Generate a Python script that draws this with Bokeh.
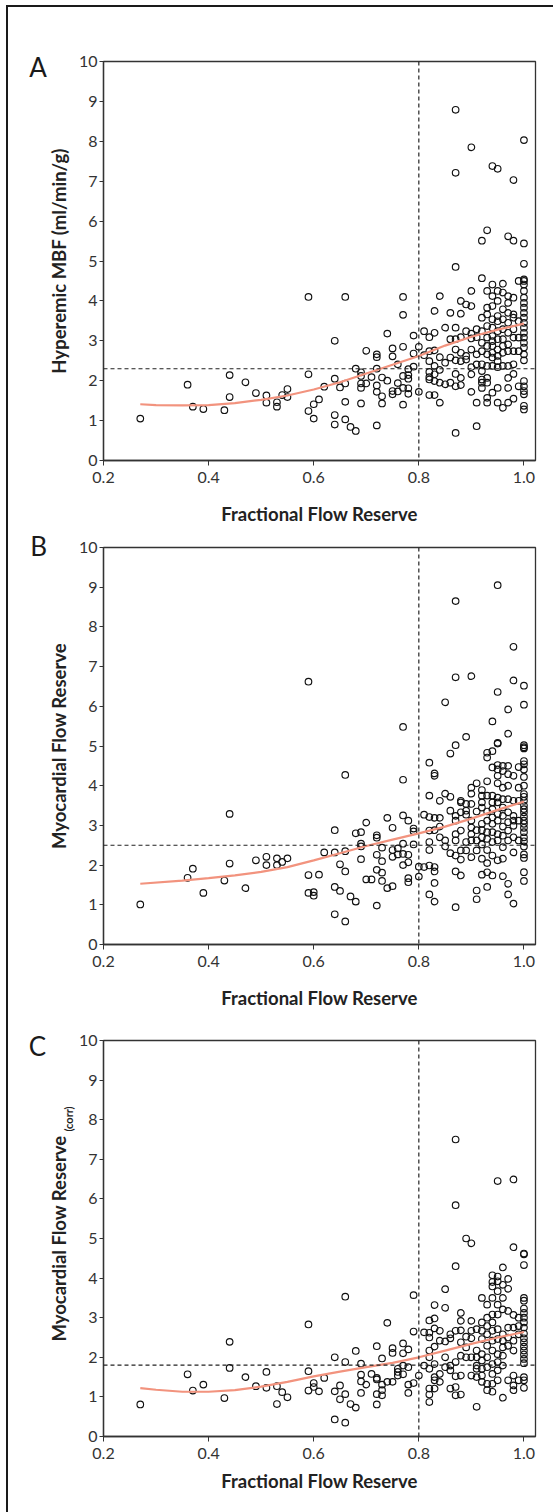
import math
from bokeh.plotting import figure
from bokeh.models import Span, Label, FixedTicker, Range1d, NumeralTickFormatter
from bokeh.layouts import column
from bokeh.embed import file_html
from bokeh.resources import INLINE

# ---------------- data ----------------
x_ticks = [0.2, 0.4, 0.6, 0.8, 1.0]
y_ticks = list(range(0, 11))

# Panel A : FFR vs hyperemic MBF (ml/min/g)
a_points = [
    (0.27, 1.05), (0.36, 1.90), (0.37, 1.35), (0.39, 1.29), (0.43, 1.26), (0.44, 2.14), (0.44, 1.59),
    (0.47, 1.96), (0.49, 1.69), (0.51, 1.63), (0.51, 1.45), (0.53, 1.46), (0.53, 1.35), (0.54, 1.64),
    (0.55, 1.79), (0.55, 1.59),
    (0.59, 4.10), (0.59, 2.16), (0.59, 1.24), (0.60, 1.41), (0.60, 1.05), (0.61, 1.53), (0.62, 1.85),
    (0.64, 3.00), (0.64, 2.05), (0.64, 1.14), (0.64, 0.90), (0.65, 1.83), (0.66, 4.10), (0.66, 1.93),
    (0.66, 1.47), (0.66, 1.03), (0.67, 0.84), (0.68, 0.74), (0.68, 2.30), (0.69, 2.21), (0.69, 2.12),
    (0.69, 1.93), (0.69, 1.82), (0.69, 1.43), (0.70, 2.75), (0.70, 1.93), (0.71, 2.09), (0.72, 2.66),
    (0.72, 2.59), (0.72, 2.30), (0.72, 1.88), (0.72, 1.72), (0.72, 0.88), (0.73, 2.08), (0.73, 1.61),
    (0.73, 1.43), (0.74, 3.18), (0.74, 2.00), (0.75, 2.81), (0.75, 2.61), (0.75, 1.74), (0.75, 1.66),
    (0.76, 2.41), (0.76, 1.94), (0.76, 1.73), (0.77, 4.10), (0.77, 3.65), (0.77, 2.85), (0.77, 2.12),
    (0.77, 1.82), (0.77, 1.40), (0.78, 2.29), (0.78, 2.14), (0.78, 2.05), (0.78, 1.81), (0.78, 1.67),
    (0.79, 3.13), (0.79, 2.68), (0.79, 2.35), (0.80, 2.85), (0.80, 1.72),
    (0.81, 3.24), (0.81, 2.64), (0.82, 3.09), (0.82, 2.74), (0.82, 2.49), (0.82, 2.22), (0.82, 2.09),
    (0.82, 2.03), (0.82, 1.64), (0.83, 3.75), (0.83, 3.20), (0.83, 2.76), (0.83, 2.37), (0.83, 2.16),
    (0.83, 1.99), (0.83, 1.64), (0.84, 4.12), (0.84, 2.59), (0.84, 2.27), (0.84, 1.95), (0.84, 1.45),
    (0.85, 3.33), (0.85, 2.45), (0.85, 1.91), (0.86, 3.70), (0.86, 3.04), (0.86, 2.58), (0.86, 1.95),
    (0.87, 4.85), (0.87, 3.33), (0.87, 3.04), (0.87, 2.78), (0.87, 2.51), (0.87, 2.17), (0.87, 1.86),
    (0.87, 0.69), (0.88, 4.00), (0.88, 3.68), (0.88, 3.09), (0.88, 2.70), (0.88, 2.49), (0.88, 2.07),
    (0.88, 1.89), (0.89, 3.91), (0.89, 3.24), (0.89, 2.62), (0.89, 2.53), (0.90, 4.25), (0.90, 3.87),
    (0.90, 3.18), (0.90, 3.06), (0.90, 2.78), (0.90, 2.34), (0.90, 2.16), (0.90, 1.72), (0.91, 3.29),
    (0.91, 3.09), (0.91, 2.66), (0.91, 2.41), (0.91, 1.45), (0.91, 0.86), (0.92, 4.57), (0.92, 3.58),
    (0.92, 3.24), (0.92, 2.95), (0.92, 2.74), (0.92, 2.41), (0.92, 2.24), (0.92, 2.03), (0.92, 1.95),
    (0.92, 1.82), (0.93, 4.25), (0.93, 3.83), (0.93, 3.66), (0.93, 3.37), (0.93, 3.08), (0.93, 2.87),
    (0.93, 2.66), (0.93, 2.37), (0.93, 2.07), (0.93, 1.95), (0.93, 1.57), (0.93, 1.45), (0.94, 4.41),
    (0.94, 4.12), (0.94, 3.87), (0.94, 3.54), (0.94, 3.33), (0.94, 3.12), (0.94, 2.99), (0.94, 2.87),
    (0.94, 2.70), (0.94, 2.58), (0.94, 2.37), (0.94, 1.70), (0.95, 4.25), (0.95, 4.00), (0.95, 3.62),
    (0.95, 3.49), (0.95, 3.24), (0.95, 3.04), (0.95, 2.78), (0.95, 2.62), (0.95, 2.49), (0.95, 2.34),
    (0.95, 1.82), (0.95, 1.45), (0.96, 4.43), (0.96, 4.21), (0.96, 3.79), (0.96, 3.54), (0.96, 3.29),
    (0.96, 3.04), (0.96, 2.87), (0.96, 2.70), (0.96, 2.37), (0.96, 1.32), (0.97, 4.12), (0.97, 3.95),
    (0.97, 3.70), (0.97, 3.45), (0.97, 3.20), (0.97, 2.91), (0.97, 2.74), (0.97, 2.37), (0.97, 2.07),
    (0.97, 1.82), (0.97, 1.45), (0.98, 4.08), (0.98, 3.66), (0.98, 3.58), (0.98, 3.29), (0.98, 3.08),
    (0.98, 2.74), (0.98, 2.41), (0.98, 2.17), (0.98, 1.55), (0.99, 4.50), (0.99, 3.49), (0.99, 3.08),
    (0.99, 2.74), (0.99, 1.86),
    (0.87, 8.79), (0.90, 7.85), (0.87, 7.21), (0.94, 7.38), (0.95, 7.31), (1.00, 8.03), (0.98, 7.03),
    (0.93, 5.77), (0.92, 5.51), (0.97, 5.62), (0.98, 5.51), (1.00, 5.44),
]
a_ffr_one = [4.93, 4.54, 4.50, 4.41, 4.25, 4.08, 3.95, 3.83, 3.70, 3.58, 3.45, 3.33, 3.20, 3.08,
             2.95, 2.83, 2.66, 2.51, 1.99, 1.86, 1.74, 1.66, 1.37, 1.28]
a_fit_x = [0.27, 0.30, 0.35, 0.40, 0.45, 0.50, 0.55, 0.60, 0.65, 0.70, 0.75, 0.80, 0.85, 0.90, 0.95, 1.00]
a_fit_y = [1.41, 1.39, 1.38, 1.39, 1.44, 1.52, 1.63, 1.78, 1.96, 2.18, 2.40, 2.62, 2.88, 3.10, 3.28, 3.43]
a_cut = 2.3

# Panel B : FFR vs myocardial flow reserve
b_points = [
    (0.27, 1.01), (0.36, 1.68), (0.37, 1.91), (0.39, 1.30), (0.43, 1.61), (0.44, 3.29), (0.44, 2.04),
    (0.47, 1.42), (0.49, 2.12), (0.51, 2.21), (0.51, 2.00), (0.53, 2.17), (0.53, 2.00), (0.54, 2.08),
    (0.55, 2.17), (0.59, 6.62), (0.59, 1.75), (0.59, 1.30), (0.60, 1.32), (0.60, 1.23), (0.61, 1.76),
    (0.62, 2.32), (0.64, 2.88), (0.64, 2.32), (0.64, 1.45), (0.64, 0.76), (0.65, 2.02), (0.65, 1.35),
    (0.66, 4.27), (0.66, 2.35), (0.66, 1.84), (0.66, 0.58), (0.67, 1.21), (0.68, 1.08), (0.68, 2.80),
    (0.69, 2.83), (0.69, 2.54), (0.69, 2.47), (0.69, 2.15), (0.70, 3.07), (0.70, 1.64), (0.71, 1.64),
    (0.72, 2.75), (0.72, 2.69), (0.72, 2.26), (0.72, 1.88), (0.72, 0.98), (0.73, 2.44), (0.73, 2.10),
    (0.73, 1.81), (0.73, 1.60), (0.74, 3.19), (0.74, 1.42), (0.75, 2.94), (0.75, 2.38), (0.75, 2.21),
    (0.75, 1.47), (0.76, 2.42), (0.76, 2.27), (0.77, 5.48), (0.77, 4.15), (0.77, 3.25), (0.77, 2.54),
    (0.77, 2.28), (0.77, 2.00), (0.78, 3.12), (0.78, 2.26), (0.78, 2.07), (0.78, 1.67), (0.78, 1.57),
    (0.79, 2.92), (0.79, 2.85), (0.79, 2.52), (0.80, 1.96), (0.80, 1.71),
    (0.81, 3.27), (0.81, 1.95), (0.82, 4.58), (0.82, 3.75), (0.82, 3.21), (0.82, 2.87), (0.82, 2.58),
    (0.82, 2.38), (0.82, 1.99), (0.82, 1.26), (0.83, 4.31), (0.83, 4.25), (0.83, 3.19), (0.83, 2.88),
    (0.83, 1.95), (0.83, 1.84), (0.83, 1.55), (0.83, 1.08), (0.84, 3.62), (0.84, 3.19), (0.84, 2.97),
    (0.84, 2.70), (0.85, 6.10), (0.85, 3.80), (0.85, 2.62), (0.85, 2.47), (0.86, 4.81), (0.86, 3.72),
    (0.86, 3.37), (0.86, 2.30), (0.87, 8.65), (0.87, 6.73), (0.87, 5.02), (0.87, 3.24), (0.87, 3.12),
    (0.87, 2.78), (0.87, 2.62), (0.87, 2.24), (0.87, 1.84), (0.87, 0.94), (0.88, 3.62), (0.88, 3.58),
    (0.88, 3.33), (0.88, 2.87), (0.88, 2.37), (0.88, 2.14), (0.88, 1.74), (0.89, 5.23), (0.89, 3.54),
    (0.89, 3.37), (0.89, 3.27), (0.89, 2.58), (0.89, 2.37), (0.90, 6.76), (0.90, 3.95), (0.90, 3.80),
    (0.90, 3.54), (0.90, 3.12), (0.90, 2.95), (0.90, 2.78), (0.90, 2.62), (0.90, 2.20), (0.91, 4.06),
    (0.91, 3.35), (0.91, 2.88), (0.91, 2.62), (0.91, 2.37), (0.91, 1.36), (0.91, 1.14), (0.92, 3.89),
    (0.92, 3.75), (0.92, 3.58), (0.92, 3.45), (0.92, 3.04), (0.92, 2.88), (0.92, 2.70), (0.92, 2.52),
    (0.92, 2.16), (0.92, 1.76), (0.93, 4.83), (0.93, 4.71), (0.93, 4.11), (0.93, 3.75), (0.93, 3.35),
    (0.93, 3.12), (0.93, 2.83), (0.93, 2.66), (0.93, 2.38), (0.93, 2.05), (0.93, 1.82), (0.93, 1.45),
    (0.94, 5.62), (0.94, 4.87), (0.94, 4.46), (0.94, 3.75), (0.94, 3.58), (0.94, 3.41), (0.94, 3.20),
    (0.94, 3.04), (0.94, 2.83), (0.94, 2.58), (0.94, 2.24), (0.94, 1.74), (0.95, 9.05), (0.95, 6.36),
    (0.95, 5.08), (0.95, 5.06), (0.95, 4.52), (0.95, 4.41), (0.95, 4.25), (0.95, 4.06), (0.95, 3.70),
    (0.95, 3.58), (0.95, 3.29), (0.95, 3.12), (0.95, 2.78), (0.95, 2.62), (0.95, 2.12), (0.96, 4.50),
    (0.96, 4.37), (0.96, 3.95), (0.96, 3.66), (0.96, 3.45), (0.96, 3.24), (0.96, 2.97), (0.96, 2.74),
    (0.96, 2.45), (0.96, 2.16), (0.96, 1.72), (0.97, 5.92), (0.97, 5.31), (0.97, 4.50), (0.97, 4.29),
    (0.97, 4.00), (0.97, 3.66), (0.97, 3.33), (0.97, 3.08), (0.97, 2.87), (0.97, 2.62), (0.97, 1.53),
    (0.97, 1.26), (0.98, 7.50), (0.98, 6.65), (0.98, 4.25), (0.98, 3.62), (0.98, 3.24), (0.98, 3.12),
    (0.98, 2.99), (0.98, 2.70), (0.98, 2.32), (0.98, 1.03), (0.99, 4.47), (0.99, 3.95), (0.99, 3.62),
    (0.99, 3.12), (0.99, 2.62),
]
b_ffr_one = [6.52, 6.04, 5.02, 4.97, 4.94, 4.62, 4.54, 4.41, 4.22, 4.00, 3.79, 3.72, 3.62, 3.50,
             3.41, 3.33, 3.22, 3.12, 3.04, 2.94, 2.83, 2.70, 2.60, 2.47, 2.27, 2.18, 1.82, 1.60]
b_fit_x = [0.27, 0.35, 0.40, 0.45, 0.50, 0.55, 0.60, 0.65, 0.70, 0.75, 0.80, 0.85, 0.90, 0.95, 1.00]
b_fit_y = [1.53, 1.61, 1.67, 1.74, 1.83, 1.95, 2.12, 2.30, 2.48, 2.64, 2.80, 2.97, 3.17, 3.39, 3.60]
b_cut = 2.5

# Panel C : FFR vs corrected myocardial flow reserve
c_points = [
    (0.27, 0.81), (0.36, 1.57), (0.37, 1.16), (0.39, 1.31), (0.43, 0.97), (0.44, 2.39), (0.44, 1.73),
    (0.47, 1.50), (0.49, 1.27), (0.51, 1.63), (0.51, 1.23), (0.53, 1.27), (0.53, 0.82), (0.54, 1.12),
    (0.55, 0.99), (0.59, 2.83), (0.59, 1.65), (0.59, 1.16), (0.60, 1.35), (0.60, 1.25), (0.61, 1.14),
    (0.62, 1.48), (0.64, 2.00), (0.64, 1.14), (0.64, 0.43), (0.65, 1.29), (0.65, 0.94), (0.66, 3.53),
    (0.66, 1.88), (0.66, 1.07), (0.66, 0.35), (0.67, 0.82), (0.68, 0.73), (0.68, 2.16), (0.69, 1.84),
    (0.69, 1.56), (0.69, 1.39), (0.69, 1.10), (0.70, 1.31), (0.71, 1.58), (0.72, 2.28), (0.72, 1.48),
    (0.72, 1.44), (0.72, 1.07), (0.72, 0.81), (0.73, 1.97), (0.73, 1.31), (0.73, 1.17), (0.73, 1.04),
    (0.74, 2.87), (0.74, 1.38), (0.75, 2.23), (0.75, 2.11), (0.75, 1.38), (0.76, 1.71), (0.76, 1.63),
    (0.76, 1.54), (0.77, 2.35), (0.77, 2.10), (0.77, 1.79), (0.77, 1.57), (0.78, 2.20), (0.78, 1.75),
    (0.78, 1.31), (0.78, 1.10), (0.79, 3.57), (0.79, 2.65), (0.79, 1.35), (0.80, 1.54),
    (0.81, 2.63), (0.81, 1.79), (0.82, 2.93), (0.82, 2.62), (0.82, 2.50), (0.82, 2.17), (0.82, 2.00),
    (0.82, 1.71), (0.82, 1.21), (0.82, 1.06), (0.82, 0.87), (0.83, 3.32), (0.83, 2.98), (0.83, 2.73),
    (0.83, 2.27), (0.83, 1.83), (0.83, 1.50), (0.83, 1.42), (0.83, 1.21), (0.84, 2.67), (0.84, 2.42),
    (0.84, 1.58), (0.84, 1.38), (0.85, 3.72), (0.85, 3.25), (0.85, 2.40), (0.85, 2.00), (0.85, 1.75),
    (0.86, 2.58), (0.86, 2.48), (0.86, 1.79), (0.86, 1.67), (0.86, 1.21), (0.87, 7.50), (0.87, 5.84),
    (0.87, 4.30), (0.87, 2.67), (0.87, 1.88), (0.87, 1.52), (0.87, 1.25), (0.87, 1.04), (0.88, 3.12),
    (0.88, 2.92), (0.88, 2.68), (0.88, 2.38), (0.88, 2.04), (0.88, 1.54), (0.88, 1.06), (0.89, 5.00),
    (0.89, 2.52), (0.89, 2.25), (0.89, 2.00), (0.90, 4.88), (0.90, 2.92), (0.90, 2.67), (0.90, 2.48),
    (0.90, 2.00), (0.90, 1.54), (0.91, 2.71), (0.91, 2.17), (0.91, 2.00), (0.91, 1.79), (0.91, 1.71),
    (0.91, 1.50), (0.91, 0.75), (0.92, 3.50), (0.92, 2.88), (0.92, 2.67), (0.92, 2.46), (0.92, 2.08),
    (0.92, 1.92), (0.92, 1.71), (0.92, 1.54), (0.92, 1.38), (0.93, 3.33), (0.93, 3.00), (0.93, 2.79),
    (0.93, 2.58), (0.93, 2.29), (0.93, 2.00), (0.93, 1.75), (0.93, 1.33), (0.93, 1.17), (0.94, 4.07),
    (0.94, 3.90), (0.94, 3.79), (0.94, 3.50), (0.94, 3.08), (0.94, 2.88), (0.94, 2.67), (0.94, 2.42),
    (0.94, 2.17), (0.94, 1.83), (0.94, 1.58), (0.94, 1.33), (0.94, 1.13), (0.95, 6.45), (0.95, 4.04),
    (0.95, 3.92), (0.95, 3.67), (0.95, 3.33), (0.95, 3.08), (0.95, 2.71), (0.95, 2.46), (0.95, 2.08),
    (0.95, 1.88), (0.95, 1.67), (0.95, 1.42), (0.96, 4.27), (0.96, 3.83), (0.96, 3.50), (0.96, 3.21),
    (0.96, 2.58), (0.96, 2.42), (0.96, 2.25), (0.96, 2.04), (0.96, 1.79), (0.96, 0.98), (0.97, 3.98),
    (0.97, 3.73), (0.97, 3.17), (0.97, 2.75), (0.97, 2.50), (0.97, 2.29), (0.97, 1.42), (0.98, 6.49),
    (0.98, 4.78), (0.98, 3.07), (0.98, 2.75), (0.98, 2.42), (0.98, 2.17), (0.98, 1.54), (0.98, 1.29),
    (0.98, 1.17), (0.99, 3.00), (0.99, 2.79), (0.99, 2.58), (0.99, 1.42),
]
c_ffr_one = [4.62, 4.60, 4.33, 3.50, 3.43, 3.23, 3.12, 3.00, 2.88, 2.75, 2.60, 2.48, 2.38, 2.27,
             2.17, 2.07, 1.96, 1.85, 1.50, 1.42, 1.23]
c_fit_x = [0.27, 0.30, 0.35, 0.40, 0.45, 0.50, 0.55, 0.60, 0.65, 0.70, 0.75, 0.80, 0.85, 0.90, 0.95, 1.00]
c_fit_y = [1.22, 1.18, 1.13, 1.13, 1.17, 1.26, 1.38, 1.52, 1.64, 1.75, 1.86, 2.00, 2.17, 2.34, 2.50, 2.64]
c_cut = 1.8

panel_letters = ["A", "B", "C"]
x_title = "Fractional Flow Reserve"
y_titles = ["Hyperemic MBF (ml/min/g)", "Myocardial Flow Reserve", "Myocardial Flow Reserve"]
c_sub = "(corr)"

# ---------------- styling ----------------
FONT = "Lato"
INK = "#222222"
TICK = "#333333"
FIT = "#f2937e"


def panel(points, at_one, fx, fy, cut, ylab, letter, height, top, bottom, left, right,
          title_standoff, letter_xy):
    p = figure(width=545, height=height, x_range=Range1d(0.2, 1.022), y_range=Range1d(0, 10),
               output_backend="svg", toolbar_location=None, title_location=None,
               min_border_left=left, min_border_right=right,
               min_border_top=top, min_border_bottom=bottom)
    p.background_fill_color = "white"
    p.border_fill_color = "white"
    p.grid.visible = False
    p.outline_line_color = "#333333"
    p.outline_line_width = 1.3

    for ax in (p.xaxis, p.yaxis):
        ax.axis_line_color = "#333333"
        ax.axis_line_width = 1.3
        ax.major_tick_line_color = "#333333"
        ax.major_tick_in = 0
        ax.minor_tick_line_color = None
        ax.major_label_text_font = FONT
        ax.major_label_text_font_size = "16px"
        ax.major_label_text_color = TICK
        ax.axis_label_text_font = FONT
        ax.axis_label_text_font_size = "18.5px"
        ax.axis_label_text_font_style = "bold"
        ax.axis_label_text_color = INK

    p.xaxis.ticker = FixedTicker(ticks=x_ticks)
    p.xaxis.formatter = NumeralTickFormatter(format="0.0")
    p.xaxis.major_tick_out = 5
    p.xaxis.major_label_standoff = 6
    p.xaxis.axis_label = x_title
    p.xaxis.axis_label_standoff = title_standoff

    p.yaxis.ticker = FixedTicker(ticks=y_ticks)
    p.yaxis.major_tick_out = 4
    p.yaxis.major_label_standoff = 2
    p.yaxis.axis_label = ylab
    p.yaxis.axis_label_standoff = 6

    p.add_layout(Span(location=0.8, dimension="height", line_color=INK,
                      line_width=1.2, line_dash="4 3"))
    p.add_layout(Span(location=cut, dimension="width", line_color=INK,
                      line_width=1.2, line_dash="4 3"))

    xs = [q[0] for q in points] + [1.0] * len(at_one)
    ys = [q[1] for q in points] + list(at_one)
    p.scatter(xs, ys, marker="circle", size=6.6, fill_alpha=0, line_color="#111111",
              line_width=1.15)
    p.line(fx, fy, line_color=FIT, line_width=2.2)

    # panel letter lives in a side panel so that it is not clipped to the frame
    p.add_layout(Label(x=letter_xy[0], y=letter_xy[1], text=letter, text_font=FONT,
                       text_font_size="26px", text_color="#1a1a1a",
                       text_baseline="alphabetic", text_align="left"), "left")
    return p


pA = panel(a_points, a_ffr_one, a_fit_x, a_fit_y, a_cut, y_titles[0], panel_letters[0],
           523, 54, 70, 94, 18, 17, (0.0585, 9.85))
pB = panel(b_points, b_ffr_one, b_fit_x, b_fit_y, b_cut, y_titles[1], panel_letters[1],
           490, 17, 76, 94, 18, 17, (0.0605, 10.05))
pC = panel(c_points, c_ffr_one, c_fit_x, c_fit_y, c_cut, y_titles[2], panel_letters[2],
           492, 20, 76, 95, 16, 8, (0.058, 9.85))
pC.add_layout(Label(x=0.1328, y=7.70, text=c_sub, angle=math.pi / 2, text_font=FONT,
                    text_font_size="11px", text_font_style="bold", text_color=INK,
                    text_baseline="middle", text_align="left"), "left")

layout = column(pA, pB, pC, margin=(5, 0, 0, 6),
                styles={"border-left": "2px solid #1a1a1a", "border-top": "2px solid #1a1a1a"})

open("out.html", "w").write(file_html(layout, INLINE))
